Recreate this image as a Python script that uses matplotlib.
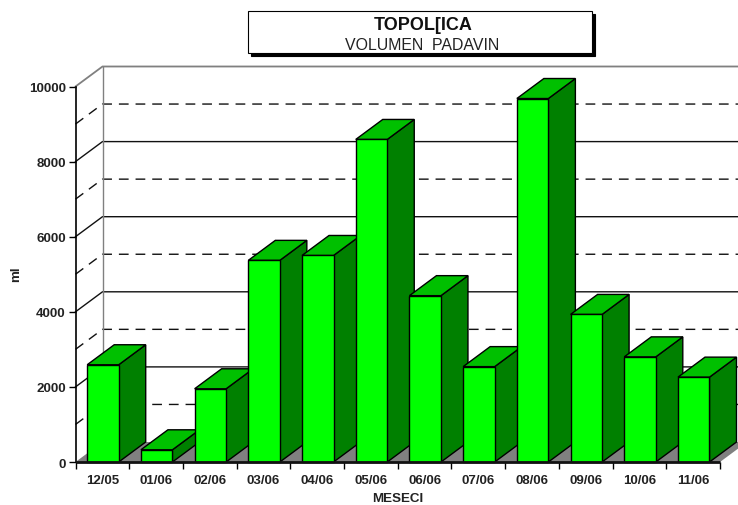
import matplotlib
matplotlib.use("Agg")
import matplotlib.pyplot as plt
from matplotlib.patches import Polygon, Rectangle

plt.rcParams['font.family'] = ['Liberation Sans', 'DejaVu Sans']

months = ['12/05', '01/06', '02/06', '03/06', '04/06', '05/06',
          '06/06', '07/06', '08/06', '09/06', '10/06', '11/06']
rain = [2590, 325, 1950, 5370, 5500, 8590, 4430, 2540, 9680, 3930, 2800, 2260]
y_ticks = [0, 2000, 4000, 6000, 8000, 10000]
solid_grid = [2000, 4000, 6000, 8000]
dashed_grid = [1000, 3000, 5000, 7000, 9000]

W, H = 738, 506
# depth of the fake 3d box, in data units
dx = 27 / 53.7
dy = 20 / 0.03755
bar_w = 31.5 / 53.7
bar_off = 11.7 / 53.7

fig = plt.figure(figsize=(W / 100, H / 100), dpi=100)
ax = fig.add_axes([75.5 / W, 1 - 463 / H, (720 - 75.5) / W, (463 - 87.5) / H])
ax.set_xlim(0, 12)
ax.set_ylim(0, 10000)
for s in ax.spines.values():
    s.set_visible(False)
ax.patch.set_visible(False)

n = len(months)

# floor
ax.add_patch(Polygon([(0, 0), (n, 0), (n + dx, dy), (dx, dy)], closed=True, fc='#808080',
                     ec='none', clip_on=False, zorder=1))

# walls
for v in solid_grid:
    ax.plot([0, dx, n + dx], [v, v + dy, v + dy], color='#111111', lw=1.0, clip_on=False, zorder=2)
for v in dashed_grid:
    ax.plot([0, dx, n + dx], [v, v + dy, v + dy], color='#111111', lw=1.0, ls=(0, (7, 5)),
            clip_on=False, zorder=2)
ax.plot([0, dx, n + dx], [10000, 10000 + dy, 10000 + dy], color='#808080', lw=1.3, clip_on=False, zorder=2)
ax.plot([dx, dx], [dy, 10000 + dy], color='#808080', lw=1.0, clip_on=False, zorder=2)
ax.plot([0, 0], [0, 10000], color='black', lw=1.2, clip_on=False, zorder=2)

# bars, left to right so the next front face hides the side before it
for i, v in enumerate(rain):
    x0 = i + bar_off
    x1 = x0 + bar_w
    z = 3 + i
    ax.add_patch(Polygon([(x1, 0), (x1 + dx, dy), (x1 + dx, v + dy), (x1, v)], closed=True,
                         fc='#008000', ec='black', lw=1.0, clip_on=False, zorder=z))
    ax.add_patch(Polygon([(x0, v), (x1, v), (x1 + dx, v + dy), (x0 + dx, v + dy)], closed=True,
                         fc='#00C000', ec='black', lw=1.0, clip_on=False, zorder=z))
    ax.add_patch(Rectangle((x0, 0), bar_w, v, fc='#00FF00', ec='black', lw=1.0, clip_on=False, zorder=z))

ax.plot([0, n], [0, 0], color='#111111', lw=2.0, clip_on=False, zorder=20, solid_capstyle='butt')

# ticks
ax.set_xticks(range(n + 1))
ax.set_xticklabels([])
ax.set_xticks([i + 0.5 for i in range(n)], minor=True)
ax.set_xticklabels(months, minor=True, fontsize=9.5, fontweight='bold', color='#222222')
ax.tick_params(axis='x', which='major', length=5, width=1.0, color='black')
ax.tick_params(axis='x', which='minor', length=0, pad=9)
ax.set_yticks(y_ticks)
ax.set_yticklabels([str(v) for v in y_ticks], fontsize=9.6, fontweight='bold', color='#222222')
ax.tick_params(axis='y', length=5, width=1.0, color='black', pad=2)

fig.text(16 / W, 1 - 274 / H, 'ml', rotation=90, ha='center', va='center', fontsize=9.6,
         fontweight='bold', color='#222222')
fig.text(398 / W, 1 - 502 / H, 'MESECI', ha='center', va='baseline', fontsize=9.6,
         fontweight='bold', color='#222222')

# title box with shadow
fig.add_artist(Rectangle((251 / W, 1 - 57 / H), 344 / W, 42 / H, fc='black', ec='black', lw=0.8,
                         transform=fig.transFigure))
fig.add_artist(Rectangle((248 / W, 1 - 54.3 / H), 344 / W, 42 / H, fc='white', ec='black', lw=0.8,
                         transform=fig.transFigure))
fig.text(423 / W, 1 - 25.5 / H, 'TOPOL[ICA', ha='center', va='center', fontsize=13,
         fontweight='bold', color='#111111')
fig.text(422 / W, 1 - 46 / H, 'VOLUMEN  PADAVIN', ha='center', va='center', fontsize=11.4,
         color='#222222')

fig.savefig('out.png', dpi=100)
